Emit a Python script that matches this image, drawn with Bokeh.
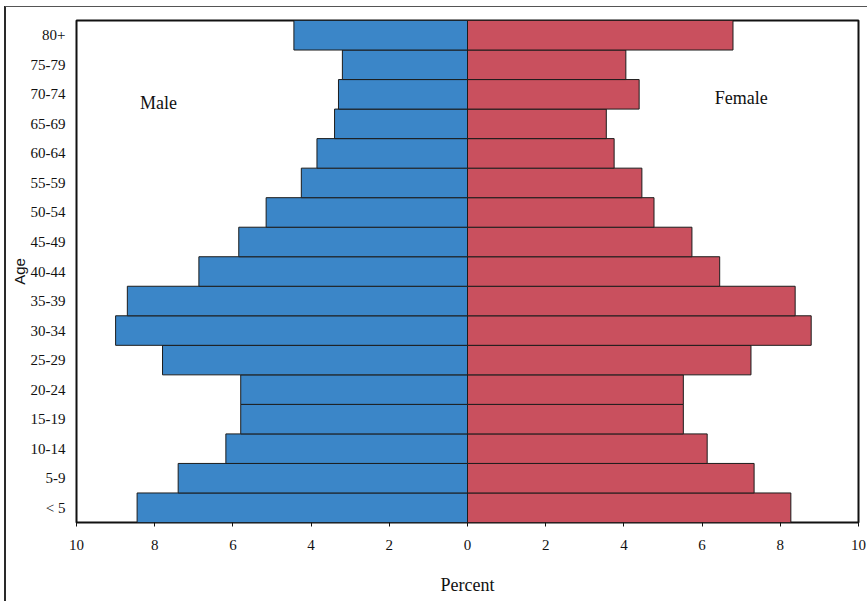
from bokeh.plotting import figure
from bokeh.models import FixedTicker, CustomJSTickFormatter, ColumnDataSource
from bokeh.core.properties import value
from bokeh.embed import file_html
from bokeh.resources import INLINE

age_groups = ["< 5", "5-9", "10-14", "15-19", "20-24", "25-29", "30-34", "35-39",
              "40-44", "45-49", "50-54", "55-59", "60-64", "65-69", "70-74", "75-79", "80+"]
male = [8.45, 7.4, 6.18, 5.8, 5.8, 7.8, 9.0, 8.7, 6.87, 5.85, 5.15, 4.25, 3.85, 3.4, 3.3, 3.2, 4.44]
female = [8.27, 7.33, 6.13, 5.52, 5.52, 7.25, 8.79, 8.38, 6.45, 5.74, 4.77, 4.46, 3.75, 3.55, 4.39, 4.05, 6.79]
x_ticks = [-10, -8, -6, -4, -2, 0, 2, 4, 6, 8, 10]

SERIF = "Liberation Serif"

p = figure(width=867, height=601, y_range=age_groups, x_range=(-10, 10),
           output_backend="svg", toolbar_location=None,
           min_border_left=76, min_border_right=9, min_border_top=20, min_border_bottom=79)

# scanned page border around the chart
p.styles = {
    "background": "linear-gradient(#555555, #555555) 5px 6px / calc(100% - 5px) 1px no-repeat, "
                  "linear-gradient(#2a2a2a, #2a2a2a) 4px 6px / 2px calc(100% - 6px) no-repeat, "
                  "white",
}
p.border_fill_color = None

src = ColumnDataSource(dict(age=age_groups,
                            male_left=[-m for m in male], male=male, female=female,
                            zero=[0] * len(age_groups)))

p.hbar(y="age", left="male_left", right="zero", height=1.0, source=src,
       fill_color="#3B86C8", line_color="#1c1c1c", line_width=1)
p.hbar(y="age", left="zero", right="female", height=1.0, source=src,
       fill_color="#C9505E", line_color="#1c1c1c", line_width=1)

p.text(x=[-7.9], y=["70-74"], text=["Male"], y_offset=9,
       text_font=value(SERIF), text_font_size="18px", text_color="#111111",
       text_align="center", text_baseline="middle")
p.text(x=[7.0], y=["70-74"], text=["Female"], y_offset=4,
       text_font=value(SERIF), text_font_size="18px", text_color="#111111",
       text_align="center", text_baseline="middle")

p.xgrid.grid_line_color = None
p.ygrid.grid_line_color = None
p.outline_line_color = "#111111"
p.outline_line_width = 2
p.background_fill_color = "white"

p.xaxis.ticker = FixedTicker(ticks=x_ticks)
p.xaxis.formatter = CustomJSTickFormatter(code="return Math.abs(tick).toString();")
p.xaxis.minor_tick_line_color = None
p.xaxis.major_tick_in = 0
p.xaxis.major_tick_out = 4
p.xaxis.major_tick_line_color = "#111111"
p.xaxis.axis_line_color = None
p.xaxis.major_label_standoff = 13
p.xaxis.major_label_text_font = SERIF
p.xaxis.major_label_text_font_size = "15px"
p.xaxis.major_label_text_color = "#111111"
p.xaxis.axis_label = "Percent"
p.xaxis.axis_label_text_font = SERIF
p.xaxis.axis_label_text_font_size = "18px"
p.xaxis.axis_label_text_font_style = "normal"
p.xaxis.axis_label_text_color = "#111111"
p.xaxis.axis_label_standoff = 22

p.yaxis.major_tick_line_color = None
p.yaxis.minor_tick_line_color = None
p.yaxis.axis_line_color = None
p.yaxis.major_label_standoff = 5
p.yaxis.major_label_text_font = SERIF
p.yaxis.major_label_text_font_size = "15px"
p.yaxis.major_label_text_color = "#111111"
p.yaxis.axis_label = "Age"
p.yaxis.axis_label_text_font = "Liberation Sans"
p.yaxis.axis_label_text_font_size = "15px"
p.yaxis.axis_label_text_font_style = "normal"
p.yaxis.axis_label_text_color = "#111111"
p.yaxis.axis_label_standoff = 0

open("out.html", "w").write(file_html(p, INLINE))
